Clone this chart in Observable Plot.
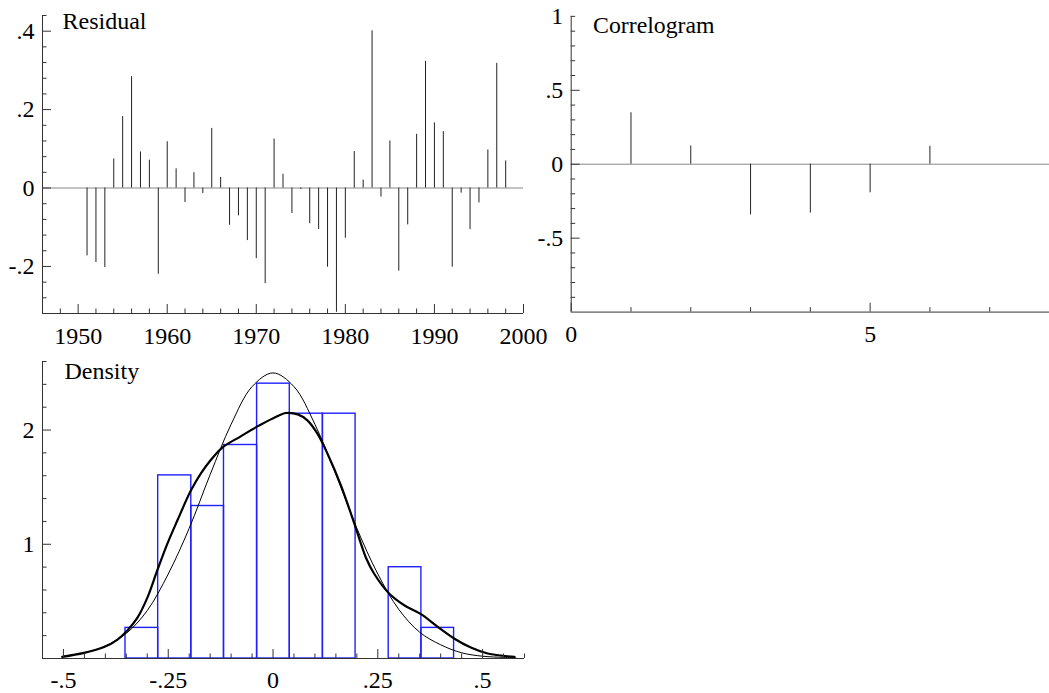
<!DOCTYPE html>
<html><head><meta charset="utf-8">
<script src="https://cdn.jsdelivr.net/npm/d3@7"></script>
<script src="https://cdn.jsdelivr.net/npm/@observablehq/plot@0.6"></script>
<style>
html,body{margin:0;padding:0;background:#fff;overflow:hidden;}
#root{position:relative;width:1049px;height:693px;overflow:hidden;background:#fff;}
.panel{position:absolute;}
</style></head><body><div id="root"></div>
<script>
// ---- Residual panel data ----
const years = [1951,1952,1953,1954,1955,1956,1957,1958,1959,1960,1961,1962,1963,1964,1965,1966,1967,1968,1969,1970,1971,1972,
               1973,1974,1975,1976,1977,1978,1979,1980,1981,1982,1983,1984,1985,1986,1987,1988,1989,1990,1991,1992,1993,1994,1995,1996,1997,1998];
const residuals = [-0.173,-0.190,-0.203,0.074,0.182,0.284,0.092,0.071,-0.220,0.118,0.049,-0.037,0.039,-0.014,0.152,0.027,-0.095,-0.071,-0.134,-0.180,-0.244,0.125,
                   0.035,-0.065,-0.004,-0.091,-0.106,-0.202,-0.317,-0.128,0.093,0.020,0.401,-0.023,0.120,-0.212,-0.094,0.137,0.323,0.166,0.144,-0.202,-0.013,-0.106,-0.038,0.097,0.318,0.069];
const resXDomain = [1946, 2000];
const resYDomain = [-0.32, 0.44];
const resXMajor = [1950,1960,1970,1980,1990,2000];
const resXMinor = [1948,1952,1954,1956,1958,1962,1964,1966,1968,1972,1974,1976,1978,1982,1984,1986,1988,1992,1994,1996,1998];
const resYMajor = [-0.2,0,0.2,0.4];
const resYMinor = [-0.28,-0.24,-0.16,-0.12,-0.08,-0.04,0.04,0.08,0.12,0.16,0.24,0.28,0.32,0.36,0.44];

// ---- Correlogram data ----
const lags = [1,2,3,4,5,6];
const acf = [0.348,0.123,-0.343,-0.330,-0.193,0.121];
const corXDomain = [0, 8];
const corYDomain = [-1, 1];
const corXMajor = [0,5];
const corXMinor = [1,2,3,4,6,7];
const corYLabels = [-0.5,0,0.5,1];
const corYMajor = [-0.5,0,0.5];
const corYMinor = [-0.9,-0.8,-0.7,-0.6,-0.4,-0.3,-0.2,-0.1,0.1,0.2,0.3,0.4,0.6,0.7,0.8,0.9,1];

// ---- Density data ----
const binEdges = [-0.352,-0.274,-0.195,-0.117,-0.038,0.040,0.119,0.197,0.276,0.354,0.432];
const binDensity = [0.268,1.603,1.335,1.869,2.406,2.143,2.143,0,0.799,0.268];
const kdeX = [-0.503,-0.451,-0.403,-0.371,-0.347,-0.323,-0.299,-0.276,-0.252,-0.228,-0.196,-0.172,-0.149,-0.121,-0.077,-0.037,0.003,0.031,0.059,0.082,0.106,0.130,0.162,0.194,0.222,0.241,0.277,0.313,0.353,0.393,0.432,0.472,0.512,0.576];
const kdeY = [0.014,0.049,0.10,0.166,0.248,0.36,0.54,0.773,1.006,1.21,1.47,1.62,1.735,1.846,1.945,2.032,2.108,2.149,2.137,2.085,1.968,1.793,1.516,1.181,0.88,0.744,0.569,0.466,0.388,0.277,0.175,0.096,0.044,0.014];
const normX = [-0.50,-0.45,-0.40,-0.35,-0.30,-0.25,-0.20,-0.15,-0.10,-0.05,0,0.05,0.10,0.15,0.20,0.25,0.30,0.35,0.40,0.45,0.50,0.55,0.58];
const normY = [0.02,0.05,0.11,0.22,0.42,0.74,1.14,1.61,2.05,2.38,2.50,2.38,2.05,1.61,1.14,0.74,0.43,0.23,0.12,0.05,0.02,0.01,0.005];
const denXDomain = [-0.55, 0.6];
const denYDomain = [0, 2.6];
const denXMajor = [-0.5,-0.25,0,0.25,0.5];
const denXMinor = [-0.45,-0.4,-0.35,-0.3,-0.2,-0.15,-0.1,-0.05,0.05,0.1,0.15,0.2,0.3,0.35,0.4,0.45,0.55,0.6];
const denYMajor = [1,2];
const denYMinor = [0.2,0.4,0.6,0.8,1.2,1.4,1.6,1.8,2.2,2.4,2.6];

// ---- helpers ----
const AX = "#333";
const FONT = "'Liberation Serif', 'Times New Roman', serif";
const fmt = d => {
  if (Math.abs(d) < 1e-9) return "0";
  const s = String(+(+d).toFixed(4));
  return s.replace(/^(-?)0\./, "$1.");
};

function panel(o) {
  const [mt, mr, mb, ml] = o.margin;
  const innerW = o.width - ml - mr;
  const innerH = o.height - mt - mb;
  const svg = Plot.plot({
    width: o.width, height: o.height,
    marginTop: mt, marginRight: mr, marginBottom: mb, marginLeft: ml,
    style: {fontFamily: FONT, fontSize: "24px", color: "#000", background: "transparent", overflow: "visible"},
    x: {domain: o.xDomain},
    y: {domain: o.yDomain},
    marks: [
      ...o.marks,
      Plot.ruleX(o.xMajor, {x: d => d, insetTop: innerH - 9, stroke: AX}),
      Plot.ruleX(o.xMinor, {x: d => d, insetTop: innerH - 4.5, stroke: AX}),
      Plot.ruleY(o.yMajor, {y: d => d, insetRight: innerW - 9, stroke: AX}),
      Plot.ruleY(o.yMinor, {y: d => d, insetRight: innerW - 4.5, stroke: AX}),
      Plot.ruleX([o.xDomain[0]], {stroke: AX}),
      Plot.ruleY([o.yDomain[0]], {stroke: AX}),
      Plot.axisX({ticks: o.xLabels, tickSize: 0, tickPadding: o.xPad ?? 13, tickFormat: o.xFmt, label: null, fontSize: 24}),
      Plot.axisY({ticks: o.yLabels, tickSize: 0, tickPadding: 8, tickFormat: fmt, label: null, fontSize: 24}),
      Plot.text([o.title], {text: d => d, frameAnchor: "top-left", dx: o.titleDx, dy: o.titleDy, textAnchor: "start", lineAnchor: "bottom", fontSize: 24, fill: "#000"})
    ]
  });
  const div = document.createElement("div");
  div.className = "panel";
  div.style.left = o.left + "px";
  div.style.top = o.top + "px";
  div.appendChild(svg);
  document.getElementById("root").appendChild(div);
}

// Residual
const resData = years.map((y, i) => ({year: y, r: residuals[i]}));
panel({
  left: 0, top: 0, width: 540, height: 350, margin: [15, 17, 37, 42],
  xDomain: resXDomain, yDomain: resYDomain,
  xMajor: resXMajor, xMinor: resXMinor, yMajor: resYMajor, yMinor: resYMinor,
  xLabels: resXMajor, yLabels: resYMajor, xFmt: d => String(d),
  title: "Residual", titleDx: 20, titleDy: 13.5,
  marks: [
    Plot.ruleY([0], {stroke: "#888"}),
    Plot.ruleX(resData, {x: "year", y1: 0, y2: "r", stroke: "#222"})
  ]
});

// Correlogram
const corData = lags.map((l, i) => ({lag: l, r: acf[i]}));
panel({
  left: 530, top: 0, width: 523, height: 350, margin: [16, 0, 36, 41],
  xDomain: corXDomain, yDomain: corYDomain,
  xMajor: corXMajor, xMinor: corXMinor, yMajor: corYMajor, yMinor: corYMinor,
  xLabels: corXMajor, yLabels: corYLabels, xFmt: d => String(d),
  title: "Correlogram", titleDx: 22, titleDy: 17,
  marks: [
    Plot.ruleY([0], {stroke: "#888"}),
    Plot.ruleX(corData, {x: "lag", y1: 0, y2: "r", stroke: "#222"})
  ]
});

// Density
const bins = binDensity.map((h, i) => ({x1: binEdges[i], x2: binEdges[i + 1], h})).filter(b => b.h > 0);
const kde = kdeX.map((x, i) => ({x, y: kdeY[i]}));
const norm = normX.map((x, i) => ({x, y: normY[i]}));
panel({
  left: 0, top: 350, width: 540, height: 343, margin: [11, 16, 35, 42],
  xDomain: denXDomain, yDomain: denYDomain,
  xMajor: denXMajor, xMinor: denXMinor, yMajor: denYMajor, yMinor: denYMinor,
  xLabels: denXMajor, yLabels: denYMajor, xFmt: fmt, xPad: 12,
  title: "Density", titleDx: 22, titleDy: 17,
  marks: [
    Plot.rect(bins, {x1: "x1", x2: "x2", y1: 0, y2: "h", fill: "none", stroke: "#2020ff", strokeWidth: 1.4}),
    Plot.line(norm, {x: "x", y: "y", curve: "catmull-rom", stroke: "#000", strokeWidth: 1}),
    Plot.line(kde, {x: "x", y: "y", curve: "catmull-rom", stroke: "#000", strokeWidth: 2.2})
  ]
});
</script>
</body></html>
